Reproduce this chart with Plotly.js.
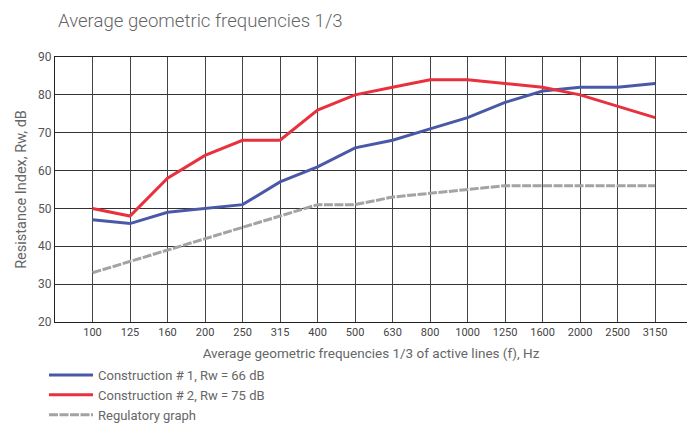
<!DOCTYPE html>
<html><head><meta charset="utf-8">
<script src="https://cdn.plot.ly/plotly-3.0.1.min.js"></script>
<style>html,body{margin:0;padding:0;background:#fff}#chart{width:687px;height:430px}</style>
</head><body><div id="chart"></div>
<script>
const freqs = ["100","125","160","200","250","315","400","500","630","800","1000","1250","1600","2000","2500","3150"];
const construction1 = [47,46,49,50,51,57,61,66,68,71,74,78,81,82,82,83];
const construction2 = [50,48,58,64,68,68,76,80,82,84,84,83,82,80,77,74];
const regulatory = [33,36,39,42,45,48,51,51,53,54,55,56,56,56,56,56];

const traces = [
  {x: freqs, y: construction1, type: 'scatter', mode: 'lines', name: 'Construction # 1, Rw = 66 dB',
   line: {color: '#4a59a7', width: 3}},
  {x: freqs, y: construction2, type: 'scatter', mode: 'lines', name: 'Construction # 2, Rw = 75 dB',
   line: {color: '#e8313c', width: 3}},
  {x: freqs, y: regulatory, type: 'scatter', mode: 'lines', name: 'Regulatory graph',
   line: {color: '#a3a3a3', width: 3, dash: '9px,1.5px'}}
];
const layout = {
  width: 687, height: 430,
  margin: {l: 55, r: 0, t: 57, b: 108},
  paper_bgcolor: '#fff', plot_bgcolor: '#fff',
  font: {family: 'Roboto, sans-serif', color: '#555'},
  title: {text: 'Average geometric frequencies 1/3', x: 0, xref: 'paper', xanchor: 'left', y: 0.953, yanchor: 'middle',
          font: {size: 18.6, color: '#666', weight: 300}, pad: {l: 3}},
  xaxis: {type: 'category', range: [-1, 15.85], showgrid: true, gridcolor: '#444', gridwidth: 1,
          showline: true, linecolor: '#222', linewidth: 1, mirror: true, ticks: '',
          tickfont: {size: 11, color: '#444'},
          title: {text: 'Average geometric frequencies 1/3 of active lines (f), Hz', font: {size: 13.5, color: '#666'}, standoff: 10}},
  yaxis: {range: [20, 90], dtick: 10, showgrid: true, gridcolor: '#333', gridwidth: 1,
          showline: true, linecolor: '#222', linewidth: 1, mirror: true, ticks: '', zeroline: false,
          tickfont: {size: 12, color: '#555'},
          title: {text: 'Resistance Index, Rw, dB', font: {size: 14.5, color: '#666'}, standoff: 8}},
  showlegend: true,
  legend: {x: -0.0174, xanchor: 'left', y: -0.4075, yanchor: 'bottom', orientation: 'v', itemwidth: 44,
           font: {size: 13, color: '#666'}, tracegroupgap: 0, borderwidth: 0, bgcolor: 'rgba(0,0,0,0)'}
};
Plotly.newPlot('chart', traces, layout, {displayModeBar: false, responsive: false});
</script></body></html>
